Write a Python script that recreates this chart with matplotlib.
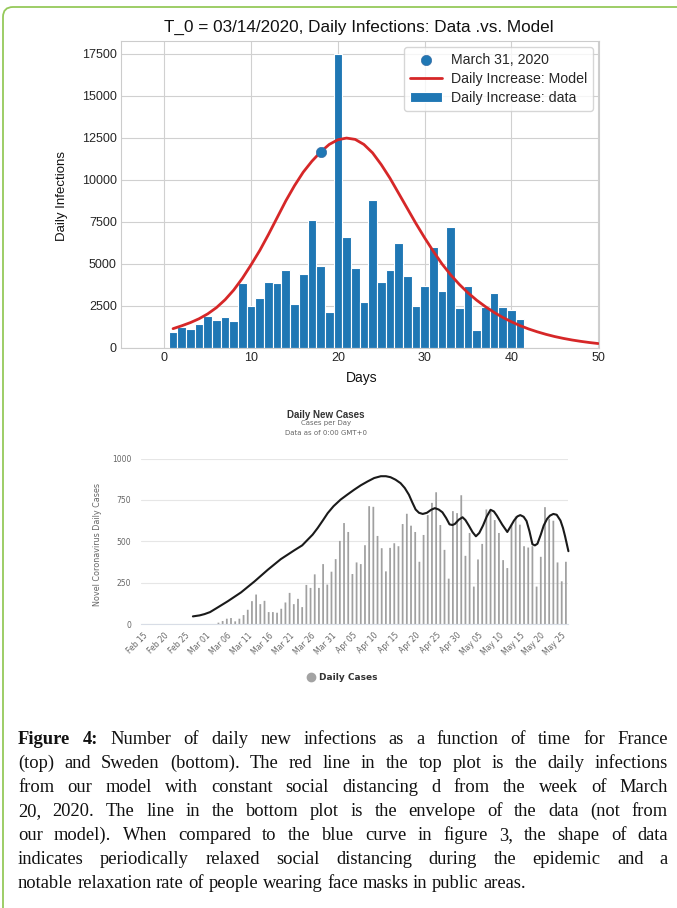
import matplotlib
matplotlib.use('Agg')
import matplotlib.pyplot as plt
import matplotlib.transforms as mtransforms
from matplotlib.patches import FancyBboxPatch
from matplotlib.lines import Line2D
import seaborn as sns
import pandas as pd

W, H = 677, 908

# ---------------- Data: France (top) ----------------
france_days = list(range(1, 42))
france_daily = [950, 1250, 1120, 1430, 1890, 1660, 1840, 1600, 3870, 2500,
                2980, 3920, 3860, 4640, 2620, 4400, 7620, 4880, 2140, 17450,
                6600, 4750, 2720, 8800, 3930, 4640, 6250, 4280, 2500, 3690,
                6010, 3390, 7200, 2380, 3690, 1060, 2450, 3270, 2450, 2270,
                1730]
model_days = list(range(1, 51))
model_values = [1150, 1320, 1510, 1740, 2030, 2400, 2870, 3450, 4150, 4950,
                5800, 6750, 7750, 8750, 9650, 10450, 11100, 11650, 12100, 12380,
                12480, 12400, 12100, 11600, 10900, 10100, 9200, 8300, 7400, 6550,
                5750, 5000, 4350, 3780, 3280, 2840, 2460, 2120, 1820, 1560,
                1330, 1130, 960, 810, 680, 570, 475, 395, 325, 265]
march31_day = 18
march31_value = 11650

# ---------------- Data: Sweden (bottom) ----------------
axis_dates = pd.date_range('2020-02-15', '2020-05-26')
tick_labels = ['Feb 15', 'Feb 20', 'Feb 25', 'Mar 01', 'Mar 06', 'Mar 11', 'Mar 16',
               'Mar 21', 'Mar 26', 'Mar 31', 'Apr 05', 'Apr 10', 'Apr 15', 'Apr 20',
               'Apr 25', 'Apr 30', 'May 05', 'May 10', 'May 15', 'May 20', 'May 25']
sweden_dates = pd.date_range('2020-03-04', '2020-05-26')
sweden_daily = [8, 18, 32, 36, 16, 32, 54, 86, 138, 178,
                120, 140, 72, 72, 68, 92, 130, 188, 120, 152,
                102, 236, 218, 300, 218, 362, 238, 316, 392, 502,
                610, 556, 302, 372, 362, 476, 712, 708, 532, 458,
                318, 460, 488, 470, 604, 666, 594, 556, 376, 538,
                658, 732, 796, 598, 448, 274, 682, 670, 778, 412,
                550, 226, 390, 484, 692, 680, 628, 550, 386, 338,
                600, 650, 600, 470, 462, 470, 226, 406, 706, 636,
                624, 372, 258, 376]
# envelope: days after Feb 15, cases
envelope_day = [11.9, 13.5, 14.7, 16.0, 17.5, 20.2, 23.4, 26.6, 29.8, 32.9,
                36.1, 38.0, 39.3, 40.5, 41.7, 43.0, 44.1, 45.5, 47.2, 48.8,
                50.4, 52.0, 53.6, 55.2, 56.8, 58.0, 59.1, 60.3, 61.5, 62.5,
                63.5, 64.3, 65.1, 65.9, 66.8, 67.8, 68.8, 69.7, 70.6, 71.5,
                72.4, 73.2, 73.9, 74.5, 75.4, 76.3, 77.0, 77.8, 78.7, 79.5,
                80.3, 81.2, 82.1, 83.0, 83.8, 84.5, 85.8, 87.0, 87.8, 88.6,
                89.4, 90.1, 90.9, 91.6, 92.3, 93.0, 93.6, 94.2, 95.0, 95.7,
                96.5, 97.2, 98.0, 98.8, 99.7, 100.3, 100.8, 101.2, 101.6]
envelope_cases = [46, 52, 60, 72, 95, 137, 191, 257, 328, 392,
                  445, 475, 509, 540, 580, 628, 670, 712, 752, 782,
                  811, 838, 861, 882, 893, 893, 887, 872, 851, 822,
                  781, 735, 692, 672, 665, 672, 690, 700, 692, 675,
                  640, 602, 598, 605, 630, 645, 628, 595, 555, 530,
                  550, 595, 650, 690, 680, 655, 600, 556, 590, 625,
                  650, 658, 648, 622, 560, 482, 475, 485, 540, 595,
                  635, 655, 665, 660, 625, 580, 530, 485, 440]

caption_lines = [
    "Figure 4: Number of daily new infections as a function of time for France",
    "(top) and Sweden (bottom). The red line in the top plot is the daily infections",
    "from our model with constant social distancing d from the week of March",
    "20, 2020. The line in the bottom plot is the envelope of the data (not from",
    "our model). When compared to the blue curve in figure 3, the shape of data",
    "indicates periodically relaxed social distancing during the epidemic and a",
    "notable relaxation rate of people wearing face masks in public areas.",
]

# ---------------- Figure ----------------
sns.set_style('whitegrid')
plt.rcParams['font.family'] = ['Liberation Sans', 'DejaVu Sans']

fig = plt.figure(figsize=(W / 100, H / 100), dpi=100)
ident = mtransforms.IdentityTransform()


def px_axes(l, t, r, b):
    return fig.add_axes([l / W, 1 - b / H, (r - l) / W, (b - t) / H])


def fx(x):
    return x / W


def fy(y):
    return 1 - y / H


# ---- Top chart ----
ax = px_axes(121, 41, 599, 348)
bars = ax.bar(france_days, france_daily, width=1.0, color='#1f77b4',
              edgecolor='white', linewidth=0.8, zorder=2)
line, = ax.plot(model_days, model_values, color='#d62728', lw=2, zorder=3)
dot = ax.scatter([march31_day], [march31_value], s=55, color='#1f77b4',
                 edgecolor='#3a6ea5', linewidth=0.5, zorder=4)
ax.set_xlim(-5, 50.1)
ax.set_ylim(0, 18250)
ax.set_xticks(range(0, 51, 10))
ax.set_yticks(range(0, 17501, 2500))
ax.tick_params(labelsize=9, colors='#262626', pad=3, length=0)
for s in ax.spines.values():
    s.set_color('#cccccc')
ax.grid(color='#d0d0d0', lw=0.8)
ax.legend([dot, line, bars],
          ['March 31, 2020', 'Daily Increase: Model', 'Daily Increase: data'],
          loc='upper right', fontsize=10.2, frameon=True, scatterpoints=1,
          edgecolor='#cccccc', fancybox=True, borderaxespad=0.45,
          handlelength=2.3, handletextpad=0.6, labelspacing=0.35)
fig.text(fx(359), fy(27), 'T_0 = 03/14/2020, Daily Infections: Data .vs. Model',
         ha='center', va='center', fontsize=12.3, color='#111111')
fig.text(fx(62), fy(196), 'Daily Infections', rotation=90, ha='center',
         va='center', fontsize=9.5, color='#111111')
fig.text(fx(362), fy(378), 'Days', ha='center', va='center', fontsize=10,
         color='#111111')

# ---- Bottom chart ----
ax2 = px_axes(141, 458.5, 568, 624)
x_bar = [(d - axis_dates[0]).days for d in sweden_dates]
ax2.bar(x_bar, sweden_daily, width=0.42, color='#a0a0a0', zorder=2,
        snap=False, linewidth=0)
ax2.plot(envelope_day, envelope_cases, color='#1a1a1a', lw=1.5, zorder=3,
         clip_on=False)
ax2.set_xlim(-0.5, len(axis_dates) - 0.5)
ax2.set_ylim(0, 1000)
ax2.set_yticks([0, 250, 500, 750, 1000])
ax2.set_yticklabels(['0', '250', '500', '750', '1000'], family='DejaVu Sans')
ax2.set_xticks(range(0, 101, 5))
ax2.set_xticklabels(tick_labels, rotation=45, ha='right', rotation_mode='anchor',
                    family='DejaVu Sans')
ax2.tick_params(axis='y', labelsize=5.5, colors='#666666', length=0, pad=7)
ax2.tick_params(axis='x', labelsize=5.5, colors='#666666', length=0, pad=5)
ax2.grid(axis='x', visible=False)
ax2.grid(axis='y', color='#e6e6e6', lw=0.8)
for k in ['left', 'right', 'top']:
    ax2.spines[k].set_visible(False)
ax2.spines['bottom'].set_color('#d8dde6')
ax2.spines['bottom'].set_linewidth(0.8)

fig.text(fx(326), fy(415), 'Daily New Cases', ha='center', va='center',
         fontsize=7, weight='bold', color='#333333')
fig.text(fx(326), fy(423.5), 'Cases per Day', ha='center', va='center',
         fontsize=5, color='#666666', family='DejaVu Sans')
fig.text(fx(326), fy(433), 'Data as of 0:00 GMT+0', ha='center', va='center',
         fontsize=5, color='#666666', family='DejaVu Sans')
fig.text(fx(97), fy(545), 'Novel Coronavirus Daily Cases', rotation=90,
         ha='center', va='center', fontsize=5.8, color='#666666',
         family='DejaVu Sans')
fig.add_artist(Line2D([fx(311)], [fy(677)], marker='o', markersize=6,
                      color='#a3a3a3', transform=fig.transFigure))
fig.text(fx(319), fy(677), 'Daily Cases', ha='left', va='center',
         fontsize=6.5, weight='bold', color='#333333', family='DejaVu Sans')

# ---- Caption (justified) ----
renderer = fig.canvas.get_renderer()
x_left, x_right = 18, 668
for i, ln in enumerate(caption_lines):
    words = ln.split(' ')
    y_disp = H - (744 + 24 * i)
    objs = []
    for j, w in enumerate(words):
        weight = 'bold' if (i == 0 and j < 2) else 'normal'
        t = fig.text(0, y_disp, w, transform=ident, fontsize=13.3,
                     family='Liberation Serif', weight=weight,
                     va='baseline', ha='left', color='#111111')
        objs.append(t)
    widths = [t.get_window_extent(renderer).width for t in objs]
    if i < len(caption_lines) - 1:
        gap = (x_right - x_left - sum(widths)) / (len(words) - 1)
    else:
        gap = 4.6
    x = x_left
    for t, wd in zip(objs, widths):
        t.set_x(x)
        x += wd + gap

# ---- Green frame ----
frame = FancyBboxPatch((3, -30), 760, H - 7 + 30,
                       boxstyle='round,pad=0,rounding_size=10',
                       transform=ident, fill=False, edgecolor='#95c95a', lw=1.3)
fig.add_artist(frame)

fig.savefig('out.png', dpi=100)
